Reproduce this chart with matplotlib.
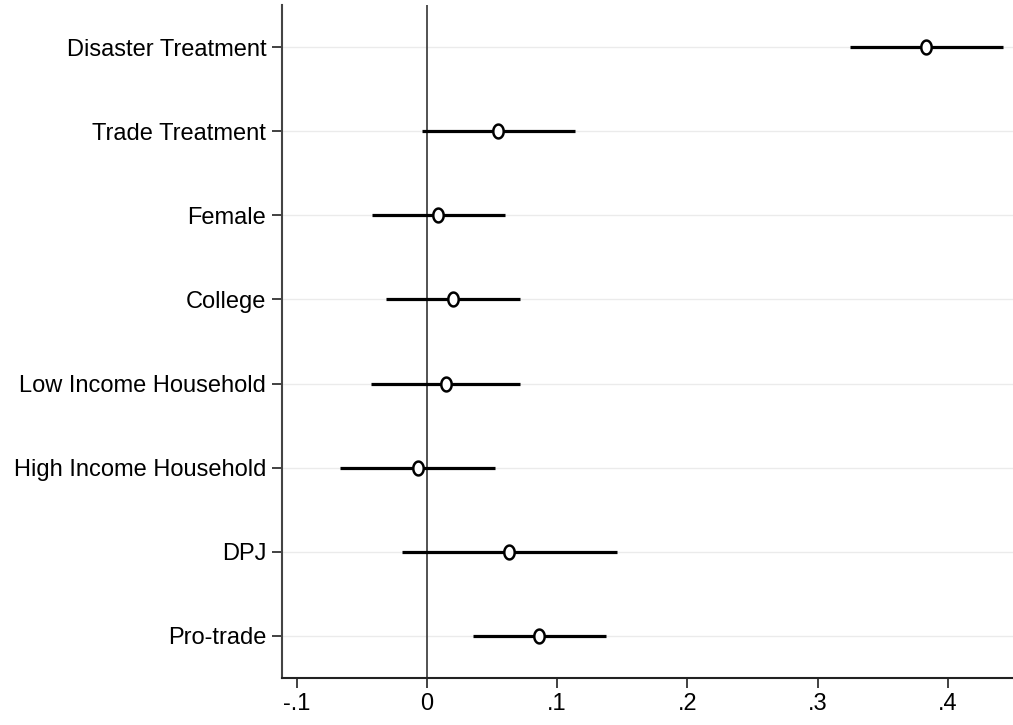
import matplotlib
matplotlib.use('Agg')
from matplotlib import pyplot as plt
from matplotlib import font_manager
from matplotlib.path import Path
import numpy as np

labels = ['Disaster Treatment', 'Trade Treatment', 'Female', 'College',
          'Low Income Household', 'High Income Household', 'DPJ', 'Pro-trade']
coef = [0.3835, 0.0547, 0.0082, 0.0197, 0.0148, -0.0065, 0.0632, 0.0862]
ci_low = [0.3246, -0.0041, -0.0424, -0.0317, -0.0432, -0.0670, -0.0187, 0.0355]
ci_high = [0.4420, 0.1141, 0.0602, 0.0714, 0.0718, 0.0520, 0.1456, 0.1379]
xticks = [-0.1, 0, 0.1, 0.2, 0.3, 0.4]
xtick_labels = ['-.1', '0', '.1', '.2', '.3', '.4']

names = {f.name for f in font_manager.fontManager.ttflist}
family = 'Liberation Sans Narrow' if 'Liberation Sans Narrow' in names else 'Liberation Sans'
plt.rcParams['font.family'] = [family, 'DejaVu Sans']

# stata style hollow circle is a bit taller than wide
t = np.linspace(0, 2 * np.pi, 41)
ellipse = Path(np.column_stack([0.75 * np.cos(t), np.sin(t)]), closed=True)

fig = plt.figure(figsize=(10.13, 7.25), dpi=100)
ax = fig.add_axes([0.278, 0.065, 0.722, 0.928])

pos = np.arange(len(labels), 0, -1)

for y in pos:
    ax.axhline(y, color='#ebebeb', lw=1.0, zorder=0)
ax.axvline(0, color='#444444', lw=1.3, zorder=1)

ax.hlines(pos, ci_low, ci_high, color='black', lw=2.3, zorder=2)
ax.plot(coef, pos, linestyle='none', marker=ellipse, ms=10, mfc='white',
        mec='black', mew=1.8, zorder=3)

ax.set_xlim(-0.1115, 0.45)
ax.set_ylim(0.5, len(labels) + 0.5)
ax.set_yticks(pos)
ax.set_yticklabels(labels)
ax.set_xticks(xticks)
ax.set_xticklabels(xtick_labels)

ax.spines['top'].set_visible(False)
ax.spines['right'].set_visible(False)
ax.spines['left'].set_color('#444444')
ax.spines['left'].set_linewidth(1.5)
ax.spines['bottom'].set_color('#222222')
ax.spines['bottom'].set_linewidth(1.5)
ax.tick_params(axis='both', direction='out', length=7, width=1.3,
               colors='#333333', labelcolor='black', labelsize=17, pad=4)

fig.savefig('out.png', dpi=100)
